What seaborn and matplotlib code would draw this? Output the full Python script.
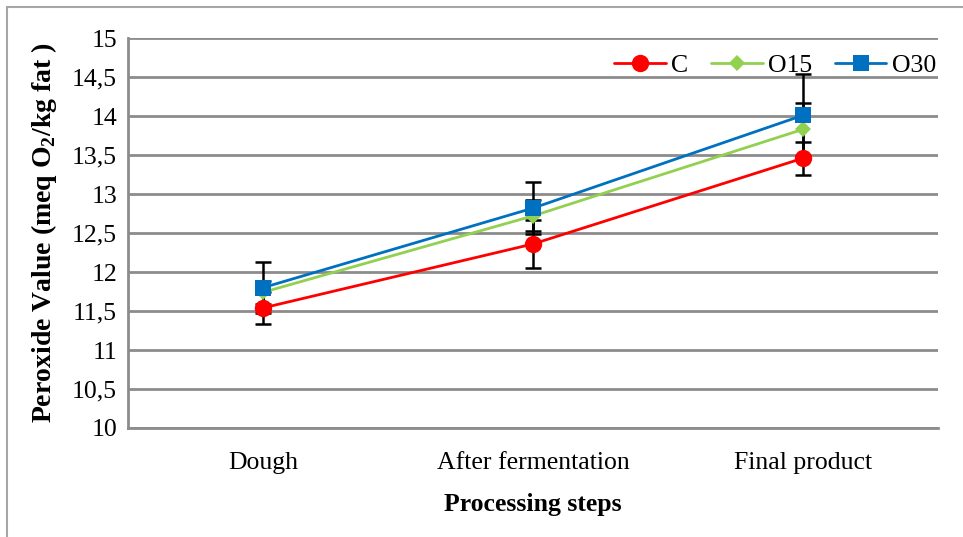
import numpy as np
import pandas as pd
import seaborn as sns
import matplotlib.pyplot as plt
from matplotlib.patches import Rectangle
from matplotlib.ticker import FuncFormatter

steps = ['Dough', 'After fermentation', 'Final product']
groups = ['C', 'O15', 'O30']
c_vals = [11.54, 12.36, 13.46]
o15_vals = [11.74, 12.72, 13.83]
o30_vals = [11.80, 12.82, 14.01]
c_err = [0.21, 0.31, 0.21]
o15_err = [0.15, 0.20, 0.34]
o30_err = [0.33, 0.33, 0.53]

sns.set_style('white')
plt.rcParams['font.family'] = ['Liberation Serif', 'DejaVu Serif']
plt.rcParams['mathtext.fontset'] = 'custom'
plt.rcParams['mathtext.rm'] = 'Liberation Serif'
plt.rcParams['mathtext.bf'] = 'Liberation Serif:bold'
plt.rcParams['text.color'] = 'black'
plt.rcParams['axes.labelcolor'] = 'black'
plt.rcParams['xtick.color'] = 'black'
plt.rcParams['ytick.color'] = 'black'

df = pd.DataFrame({
    'step': steps * 3,
    'pos': [0, 1, 2] * 3,
    'group': np.repeat(groups, 3),
    'value': c_vals + o15_vals + o30_vals,
    'err': c_err + o15_err + o30_err,
})

colors = {'C': '#FF0000', 'O15': '#92D050', 'O30': '#0070C0'}
markers = {'C': 'o', 'O15': 'D', 'O30': 's'}
msizes = {'C': 12.5, 'O15': 8, 'O30': 11.5}

fig = plt.figure(figsize=(9.63, 5.37), dpi=100)
ax = fig.add_axes([0.133, 0.203, 0.841, 0.726])

for g in groups:
    d = df[df['group'] == g]
    ax.errorbar(d['pos'], d['value'], yerr=d['err'], fmt='none', ecolor='black',
                elinewidth=1.8, capsize=6, capthick=1.8, zorder=1.5)
    sns.lineplot(data=d, x='pos', y='value', color=colors[g], marker=markers[g],
                 markersize=msizes[g], markeredgewidth=0, linewidth=2, label=g, ax=ax,
                 zorder=3)

ax.set_xlim(-0.5, 2.5)
ax.set_ylim(10, 15)
ax.set_yticks(np.arange(10, 15.01, 0.5))
ax.yaxis.set_major_formatter(FuncFormatter(lambda v, p: f'{v:g}'.replace('.', ',')))
ax.set_xticks([0, 1, 2])
ax.set_xticklabels(steps)
ax.tick_params(axis='both', length=0, labelsize=18.5)
ax.tick_params(axis='x', pad=17)
ax.tick_params(axis='y', pad=8)
ax.yaxis.grid(True, color='#8c8c8c', linewidth=2)
ax.set_axisbelow(True)
for s in ['top', 'right']:
    ax.spines[s].set_visible(False)
for s in ['left', 'bottom']:
    ax.spines[s].set_color('#8c8c8c')
    ax.spines[s].set_linewidth(2)

ax.set_xlabel('Processing steps', fontsize=18.5, fontweight='bold', labelpad=14)
ax.set_ylabel(r'Peroxide Value (meq O$_\mathbf{2}$/kg fat )', fontsize=20,
              fontweight='bold', labelpad=9)

ax.legend(loc='upper right', bbox_to_anchor=(1.01, 0.985), ncol=3, frameon=False,
          fontsize=18.5, handlelength=2.0, handletextpad=0.2, columnspacing=0.9,
          borderaxespad=0)

fig.add_artist(Rectangle((0.007, -0.1), 1.2, 1.087, transform=fig.transFigure,
                         fill=False, edgecolor='#a6a6a6', linewidth=1.5))

fig.savefig('out.png', dpi=100)
